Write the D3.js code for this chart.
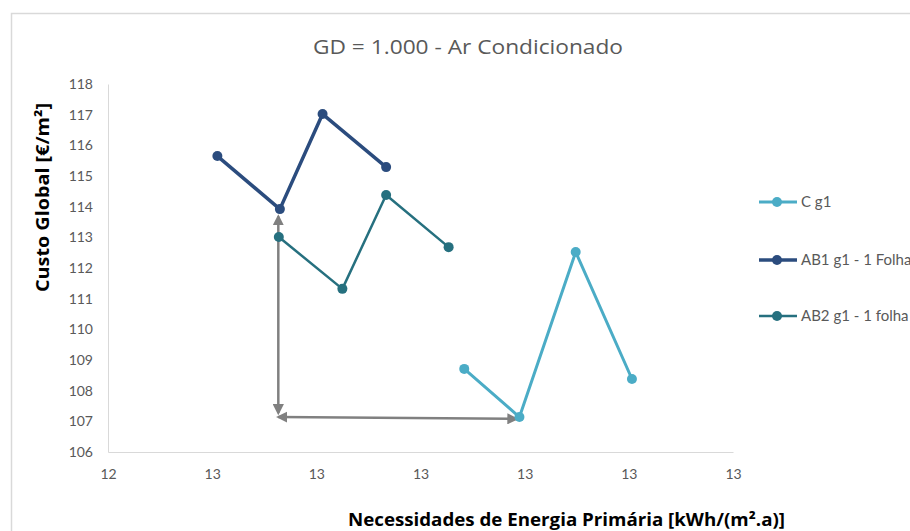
<!DOCTYPE html>
<html>
<head>
<meta charset="utf-8">
<script src="https://cdn.jsdelivr.net/npm/d3@7"></script>
<style>
  html, body { margin: 0; padding: 0; background: #fff; }
  svg { display: block; }
</style>
</head>
<body>
<svg id="chart" width="910" height="531"></svg>
<script>
// ---- data ----
const seriesNames = ["C g1", "AB1 g1 - 1 Folha", "AB2 g1 - 1 folha"];
const cX   = [12.742, 12.795, 12.849, 12.903];
const cY   = [108.71, 107.14, 112.52, 108.38];
const ab1X = [12.505, 12.565, 12.606, 12.667];
const ab1Y = [115.65, 113.92, 117.02, 115.29];
const ab2X = [12.564, 12.625, 12.667, 12.727];
const ab2Y = [113.01, 111.32, 114.38, 112.68];
const xTicks = [12.4, 12.5, 12.6, 12.7, 12.8, 12.9, 13.0];
const xTickLabels = ["12", "13", "13", "13", "13", "13", "13"];
const yTicks = [106, 107, 108, 109, 110, 111, 112, 113, 114, 115, 116, 117, 118];
// annotation arrows (data coordinates)
const arrowVX = [12.5635, 12.5635];
const arrowVY = [113.68, 107.27];
const arrowHX = [12.5635, 12.792];
const arrowHY = [107.14, 107.08];

const title = "GD = 1.000 - Ar Condicionado";
const xTitle = "Necessidades de Energia Primária [kWh/(m².a)]";
const yTitle = "Custo Global [€/m²]";

// ---- layout ----
const svg = d3.select("#chart");
const font = "'Open Sans', Lato, sans-serif";
const tickFont = "Lato, 'Open Sans', sans-serif";
const plot = { left: 108, right: 733, top: 84, bottom: 452 };
const x = d3.scaleLinear().domain([12.4, 13.0]).range([plot.left, plot.right]);
const y = d3.scaleLinear().domain([106, 118]).range([plot.bottom, plot.top]);

const colors = ["#4BACC6", "#2B4C7E", "#26707F"];
const widths = [3, 3.5, 2.5];

// chart border
svg.append("rect").attr("x", 11.5).attr("y", 13.5).attr("width", 940).attr("height", 560)
  .attr("fill", "none").attr("stroke", "#D9D9D9").attr("stroke-width", 1.5);

// title
svg.append("text").attr("x", 468).attr("y", 54).attr("text-anchor", "middle")
  .attr("font-family", font).attr("font-size", 20).attr("fill", "#595959")
  .attr("textLength", 310).attr("lengthAdjust", "spacingAndGlyphs").text(title);

// axes
const xAxis = d3.axisBottom(x).tickValues(xTicks).tickSize(0)
  .tickFormat((d, i) => xTickLabels[i]);
const gx = svg.append("g").attr("transform", `translate(0,${plot.bottom})`).call(xAxis);
gx.select(".domain").attr("stroke", "#D9D9D9").attr("stroke-width", 1);
gx.selectAll("text").attr("font-family", tickFont).attr("font-size", 14).attr("fill", "#595959").attr("dy", "1.7em");

const yAxis = d3.axisLeft(y).tickValues(yTicks).tickSize(0).tickFormat(d3.format("d"));
const gy = svg.append("g").attr("transform", `translate(${plot.left},0)`).call(yAxis);
gy.select(".domain").attr("stroke", "#D9D9D9").attr("stroke-width", 1);
gy.selectAll("text").attr("font-family", tickFont).attr("font-size", 14).attr("fill", "#595959").attr("x", -15);

// axis titles
svg.append("text").attr("x", 566.5).attr("y", 526).attr("text-anchor", "middle")
  .attr("font-family", font).attr("font-weight", "bold").attr("font-size", 18).attr("fill", "#000")
  .attr("textLength", 437).attr("lengthAdjust", "spacingAndGlyphs").text(xTitle);
svg.append("text").attr("transform", "translate(49,197.5) rotate(-90)").attr("text-anchor", "middle")
  .attr("font-family", font).attr("font-weight", "bold").attr("font-size", 18).attr("fill", "#000")
  .attr("textLength", 189).attr("lengthAdjust", "spacingAndGlyphs").text(yTitle);

// arrows
const defs = svg.append("defs");
defs.append("marker").attr("id", "ah").attr("viewBox", "0 0 10 10").attr("refX", 8).attr("refY", 5)
  .attr("markerWidth", 4.5).attr("markerHeight", 4.5).attr("orient", "auto-start-reverse")
  .attr("markerUnits", "strokeWidth")
  .append("path").attr("d", "M0,0 L10,5 L0,10 z").attr("fill", "#808080");
[[arrowVX, arrowVY], [arrowHX, arrowHY]].forEach(([ax, ay]) => {
  svg.append("line")
    .attr("x1", x(ax[0])).attr("y1", y(ay[0])).attr("x2", x(ax[1])).attr("y2", y(ay[1]))
    .attr("stroke", "#808080").attr("stroke-width", 2.5)
    .attr("marker-start", "url(#ah)").attr("marker-end", "url(#ah)");
});

// series
const series = [
  { xs: cX, ys: cY }, { xs: ab1X, ys: ab1Y }, { xs: ab2X, ys: ab2Y }
];
const line = d3.line().x(d => x(d[0])).y(d => y(d[1]));
series.forEach((s, i) => {
  const pts = s.xs.map((v, j) => [v, s.ys[j]]);
  svg.append("path").datum(pts).attr("d", line).attr("fill", "none")
    .attr("stroke", colors[i]).attr("stroke-width", widths[i]).attr("stroke-linejoin", "round");
  svg.append("g").selectAll("circle").data(pts).join("circle")
    .attr("cx", d => x(d[0])).attr("cy", d => y(d[1])).attr("r", 5).attr("fill", colors[i]);
});

// legend
const legendY = [202, 260, 316];
seriesNames.forEach((name, i) => {
  const g = svg.append("g").attr("transform", `translate(759,${legendY[i]})`);
  g.append("line").attr("x1", 0).attr("x2", 38).attr("stroke", colors[i]).attr("stroke-width", widths[i]);
  g.append("circle").attr("cx", 18).attr("r", 5).attr("fill", colors[i]);
  g.append("text").attr("x", 42).attr("dy", "0.35em").attr("font-family", tickFont)
    .attr("font-size", 15).attr("fill", "#595959").text(name);
});
</script>
</body>
</html>
